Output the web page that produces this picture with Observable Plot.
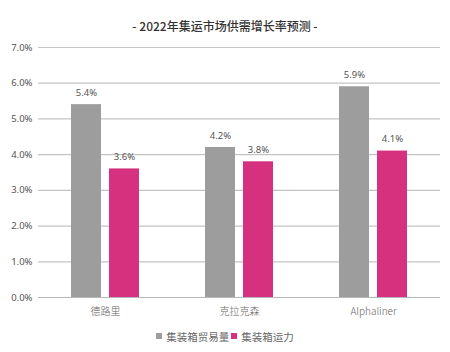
<!DOCTYPE html>
<html>
<head>
<meta charset="utf-8">
<script src="https://cdn.jsdelivr.net/npm/d3@7"></script>
<script src="https://cdn.jsdelivr.net/npm/@observablehq/plot@0.6"></script>
<style>
  html, body { margin: 0; padding: 0; background: #fff; }
  #wrap { position: relative; width: 450px; height: 352px; font-family: "Noto Sans", "Noto Sans CJK SC", sans-serif; }
  #title { position: absolute; top: 17px; left: 0; width: 450px; text-align: center; font-size: 12px; font-weight: 500; color: #333; font-family: "Noto Sans CJK SC", "Noto Sans", sans-serif; }
  #legend { position: absolute; top: 327px; left: 0; width: 450px; text-align: center; font-size: 10.5px; color: #666; font-family: "Noto Sans CJK SC", sans-serif; }
  #legend span.item { display: inline-flex; align-items: center; margin: 0 1px; }
  #legend i { display: inline-block; width: 6px; height: 6px; margin-right: 4px; }
  #chart { position: absolute; top: 0; left: 0; }
</style>
</head>
<body>
<div id="wrap">
  <div id="chart"></div>
  <div id="title">- 2022年集运市场供需增长率预测 -</div>
  <div id="legend"></div>
</div>
<script>
const categories = ["德路里", "克拉克森", "Alphaliner"];
const seriesNames = ["集装箱贸易量", "集装箱运力"];
const tradeVolume = [5.4, 4.2, 5.9];
const capacity = [3.6, 3.8, 4.1];
const colors = ["#9d9d9d", "#d5317f"];
const yTicks = [0, 1, 2, 3, 4, 5, 6, 7];

const data = [];
categories.forEach((c, i) => {
  data.push({cat: c, series: seriesNames[0], value: tradeVolume[i]});
  data.push({cat: c, series: seriesNames[1], value: capacity[i]});
});

const chart = Plot.plot({
  width: 450,
  height: 352,
  marginLeft: 38,
  marginRight: 10,
  marginTop: 47,
  marginBottom: 55,
  style: {fontFamily: "'Noto Sans', 'Noto Sans CJK SC', sans-serif", color: "#555", background: "#fff"},
  fx: {domain: categories, padding: 0, label: null},
  x: {domain: seriesNames, paddingInner: 8 / 38, paddingOuter: 33 / 38, axis: null},
  y: {domain: [0, 7], label: null},
  color: {domain: seriesNames, range: colors},
  marks: [
    Plot.gridY(yTicks, {stroke: "#c4c4c4", strokeOpacity: 1, strokeWidth: 1.2}),
    Plot.axisY(yTicks, {tickSize: 0, tickPadding: 6, tickFormat: d => d.toFixed(1) + "%", fontSize: 9.5, fill: "#555", label: null}),
    Plot.axisFx({anchor: "bottom", tickSize: 0, tickPadding: 10, fontSize: 10, fill: "#666", label: null, fontFamily: "'Noto Sans CJK SC', sans-serif", fontWeight: 300}),
    Plot.barY(data, {fx: "cat", x: "series", y: "value", fill: "series"}),
    Plot.text(data, {fx: "cat", x: "series", y: "value", text: d => d.value.toFixed(1) + "%", dy: -12, fontSize: 9.5, fill: "#555"}),
    Plot.ruleY([0], {stroke: "#b8b8b8", strokeWidth: 1.2})
  ]
});
document.getElementById("chart").appendChild(chart);

const legend = document.getElementById("legend");
seriesNames.forEach((s, i) => {
  const item = document.createElement("span");
  item.className = "item";
  const sw = document.createElement("i");
  sw.style.background = colors[i];
  item.appendChild(sw);
  item.appendChild(document.createTextNode(s));
  legend.appendChild(item);
});
</script>
</body>
</html>
